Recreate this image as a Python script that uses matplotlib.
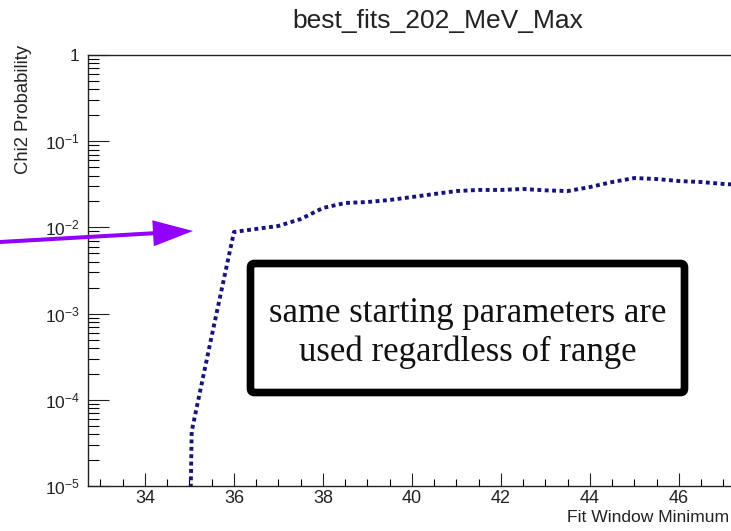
import matplotlib
matplotlib.use("Agg")
import matplotlib.pyplot as plt
from matplotlib.patches import FancyArrow, FancyBboxPatch
from matplotlib.ticker import FixedLocator, FixedFormatter, MultipleLocator, LogLocator, NullFormatter
from matplotlib.transforms import IdentityTransform

plt.rcParams["font.family"] = ["Liberation Sans", "DejaVu Sans"]

# chi2 probability vs lower edge of the fit window
fit_min = [35.0, 35.05, 35.5, 36.0, 36.5, 37.0, 37.5, 38.0, 38.5, 39.0, 39.5,
           40.0, 40.5, 41.0, 41.5, 42.0, 42.5, 43.0, 43.5, 44.0, 44.5,
           45.0, 45.5, 46.0, 46.5, 47.0, 47.5]
chi2_prob = [1e-6, 4.3e-5, 5.5e-4, 8.85e-3, 9.6e-3, 1.04e-2, 1.25e-2, 1.68e-2,
             1.92e-2, 1.97e-2, 2.08e-2, 2.25e-2, 2.44e-2, 2.64e-2, 2.72e-2,
             2.72e-2, 2.79e-2, 2.69e-2, 2.64e-2, 2.94e-2, 3.36e-2, 3.74e-2,
             3.64e-2, 3.45e-2, 3.36e-2, 3.19e-2, 3.1e-2]

y_ticks = [1e-5, 1e-4, 1e-3, 1e-2, 1e-1, 1]
y_labels = [r"$\mathdefault{10^{-5}}$", r"$\mathdefault{10^{-4}}$",
            r"$\mathdefault{10^{-3}}$", r"$\mathdefault{10^{-2}}$",
            r"$\mathdefault{10^{-1}}$", "1"]

W, H = 731, 531
fig = plt.figure(figsize=(W / 100, H / 100), dpi=100)
fig.patch.set_facecolor("white")

# frame runs off the right edge of the canvas
x0, x1 = 32.72, 47.6
px_per_unit = 44.5
ax_w = (x1 - x0) * px_per_unit / W
ax = fig.add_axes([88 / W, 45 / H, ax_w, 431 / H])

ax.plot(fit_min, chi2_prob, color="#16137a", lw=2.8, linestyle=(0, (1, 0.9)),
        dash_capstyle="butt")

ax.set_yscale("log")
ax.set_xlim(x0, x1)
ax.set_ylim(1e-5, 1)

ax.xaxis.set_major_locator(FixedLocator([34, 36, 38, 40, 42, 44, 46]))
ax.xaxis.set_minor_locator(MultipleLocator(0.5))
ax.yaxis.set_major_locator(FixedLocator(y_ticks))
ax.yaxis.set_major_formatter(FixedFormatter(y_labels))
ax.yaxis.set_minor_locator(LogLocator(base=10, subs=range(2, 10), numticks=20))
ax.yaxis.set_minor_formatter(NullFormatter())

ax.tick_params(axis="x", which="major", direction="in", length=9.5, width=0.8,
               labelsize=13, pad=3, top=False, colors="#222222")
ax.tick_params(axis="x", which="minor", direction="in", length=5, width=0.8, top=False)
ax.tick_params(axis="y", which="major", direction="in", length=15, width=0.8,
               labelsize=12.5, pad=6, right=False, colors="#222222")
ax.tick_params(axis="y", which="minor", direction="in", length=8, width=0.8, right=False)

for side in ["left", "bottom", "top"]:
    ax.spines[side].set_linewidth(1.0)
    ax.spines[side].set_color("#222222")
ax.spines["right"].set_visible(False)

ax_px = ax_w * W
ax.set_xlabel("Fit Window Minimum", fontsize=12.6, ha="right", color="#222222")
ax.xaxis.set_label_coords((729 - 88) / ax_px, -24 / 431)
ax.set_ylabel("Chi2 Probability", fontsize=13.3, ha="right", color="#222222")
ax.yaxis.set_label_coords(-56 / ax_px, 1.023)

fig.text(438 / W, 1 - 21 / H, "best_fits_202_MeV_Max", fontsize=19,
         ha="center", va="center", color="#222222")

# arrow pointing at the kink
arr = FancyArrow(0, H - 242, 193, 11, width=4, head_width=26, head_length=40,
                 length_includes_head=True, color="#9200ff", lw=0,
                 transform=IdentityTransform())
fig.add_artist(arr)

# note box
box = FancyBboxPatch((250.5, H - 392.5), 434, 129, boxstyle="round,pad=0,rounding_size=4",
                     facecolor="white", edgecolor="black", linewidth=5.5,
                     transform=IdentityTransform())
fig.add_artist(box)
fig.text(467.5 / W, 1 - 333 / H,
         "same starting parameters are\nused regardless of range",
         fontsize=25, ha="center", va="center", linespacing=1.25,
         family=["Liberation Serif", "DejaVu Serif"], color="#111111")

fig.savefig("out.png", dpi=100, facecolor="white")
